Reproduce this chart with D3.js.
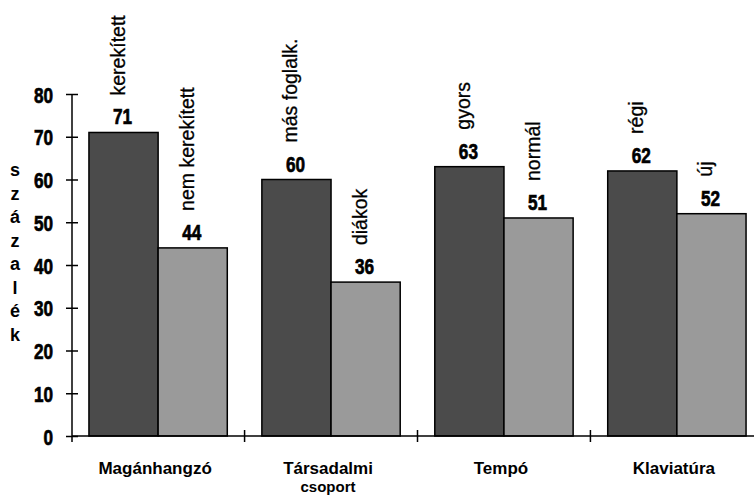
<!DOCTYPE html>
<html>
<head>
<meta charset="utf-8">
<script src="https://cdn.jsdelivr.net/npm/d3@7"></script>
<style>
  body { margin: 0; background: #fff; }
  text { font-family: "Liberation Sans", Arial, sans-serif; fill: #000; }
</style>
</head>
<body>
<div id="chart"></div>
<script>
// data
var categories = [["Magánhangzó"], ["Társadalmi", "csoport"], ["Tempó"], ["Klaviatúra"]];
var firstLabels = ["kerekített", "más foglalk.", "gyors", "régi"];
var firstValues = [71, 60, 63, 62];
var secondLabels = ["nem kerekített", "diákok", "normál", "új"];
var secondValues = [44, 36, 51, 52];
var yTicks = [0, 10, 20, 30, 40, 50, 60, 70, 80];
var yLabel = "százalék";

var svgWidth = 754;
var svgHeight = 496;

var svg = d3.select("#chart")
  .append("svg")
  .attr("width", svgWidth)
  .attr("height", svgHeight);

var x0 = 72, yBottom = 436, yTop = 94;
var narrow = 0.78; // squeeze for the heavy condensed numbers

var groups = d3.range(categories.length);
var xGroup = d3.scaleBand()
  .domain(groups)
  .range([x0, x0 + 691])
  .paddingInner(0.2)
  .paddingOuter(0.098);

var xSub = d3.scaleBand()
  .domain([0, 1])
  .range([0, xGroup.bandwidth()]);

var y = d3.scaleLinear()
  .domain([0, 80])
  .range([yBottom, yTop]);

// build rows
var rows = [];
groups.forEach(function(i) {
  rows.push({ g: i, s: 0, value: firstValues[i], label: firstLabels[i] });
  rows.push({ g: i, s: 1, value: secondValues[i], label: secondLabels[i] });
});

var colors = ["#4b4b4b", "#9a9a9a"];
var barMid = d => xGroup(d.g) + xSub(d.s) + xSub.bandwidth() / 2;

// bars
svg.selectAll("rect.bar")
  .data(rows)
  .enter()
  .append("rect")
  .attr("class", "bar")
  .attr("x", d => xGroup(d.g) + xSub(d.s))
  .attr("y", d => y(d.value))
  .attr("width", xSub.bandwidth())
  .attr("height", d => y(0) - y(d.value))
  .attr("fill", d => colors[d.s])
  .attr("stroke", "#000")
  .attr("stroke-width", 1.5);

// value labels
svg.selectAll("text.val")
  .data(rows)
  .enter()
  .append("text")
  .attr("class", "val")
  .attr("transform", d => `translate(${barMid(d) - 1}, ${y(d.value) - 8}) scale(${narrow}, 1)`)
  .attr("text-anchor", "middle")
  .attr("font-size", 22)
  .attr("font-weight", "bold")
  .attr("stroke", "#000")
  .attr("stroke-width", 0.7)
  .text(d => d.value);

// rotated series labels
svg.selectAll("text.ser")
  .data(rows)
  .enter()
  .append("text")
  .attr("class", "ser")
  .attr("transform", d => `translate(${barMid(d) + 1}, ${y(d.value) - 37}) rotate(-90)`)
  .attr("font-size", 19.5)
  .attr("stroke", "#000")
  .attr("stroke-width", 0.3)
  .text(d => d.label);

// y axis
var leftAxis = d3.axisLeft(y)
  .tickValues(yTicks)
  .tickSize(6)
  .tickFormat(d3.format("d"));

var yAxisG = svg.append("g")
  .attr("transform", `translate(${x0}, 0)`)
  .call(leftAxis)
  .attr("font-family", null)
  .attr("font-size", null);

yAxisG.select(".domain")
  .attr("d", `M0,${yTop}V${yBottom}`)
  .attr("stroke", "#000")
  .attr("stroke-width", 1.5);

yAxisG.selectAll(".tick line")
  .attr("x1", -6)
  .attr("x2", 6)
  .attr("stroke-width", 1.5);

yAxisG.selectAll(".tick text")
  .attr("x", null)
  .attr("dy", null)
  .attr("transform", d => `translate(-19, 8) scale(${narrow}, 1)`)
  .attr("font-size", 22)
  .attr("font-weight", "bold")
  .attr("stroke", "#000")
  .attr("stroke-width", 0.7);

// x axis
svg.append("line")
  .attr("x1", x0)
  .attr("x2", svgWidth)
  .attr("y1", yBottom)
  .attr("y2", yBottom)
  .attr("stroke", "#000")
  .attr("stroke-width", 1.5);

var boundaries = groups.map(i => xGroup(i) - xGroup.step() * xGroup.paddingInner() / 2);
boundaries[0] = x0;

svg.selectAll("line.xtick")
  .data(boundaries)
  .enter()
  .append("line")
  .attr("class", "xtick")
  .attr("x1", d => d)
  .attr("x2", d => d)
  .attr("y1", (d, i) => i === 0 ? yBottom : yBottom - 6)
  .attr("y2", yBottom + 6)
  .attr("stroke", "#000")
  .attr("stroke-width", 1.5);

// category labels, one text per line
var catLines = [];
groups.forEach(function(g) {
  categories[g].forEach(function(t, j) { catLines.push({ g: g, j: j, t: t }); });
});

svg.selectAll("text.cat")
  .data(catLines)
  .enter()
  .append("text")
  .attr("class", "cat")
  .attr("x", d => xGroup(d.g) + xGroup.bandwidth() / 2 - 3)
  .attr("y", d => d.j === 0 ? 474 : 491.5)
  .attr("text-anchor", "middle")
  .attr("font-size", d => d.j === 0 ? 17 : 15)
  .attr("font-weight", "bold")
  .text(d => d.t);

// y axis title, stacked letters
svg.selectAll("text.ylab")
  .data(yLabel.split(""))
  .enter()
  .append("text")
  .attr("class", "ylab")
  .attr("x", 15)
  .attr("y", (d, i) => 176 + i * 23.5)
  .attr("text-anchor", "middle")
  .attr("font-size", 18)
  .attr("font-weight", "bold")
  .text(d => d);
</script>
</body>
</html>
